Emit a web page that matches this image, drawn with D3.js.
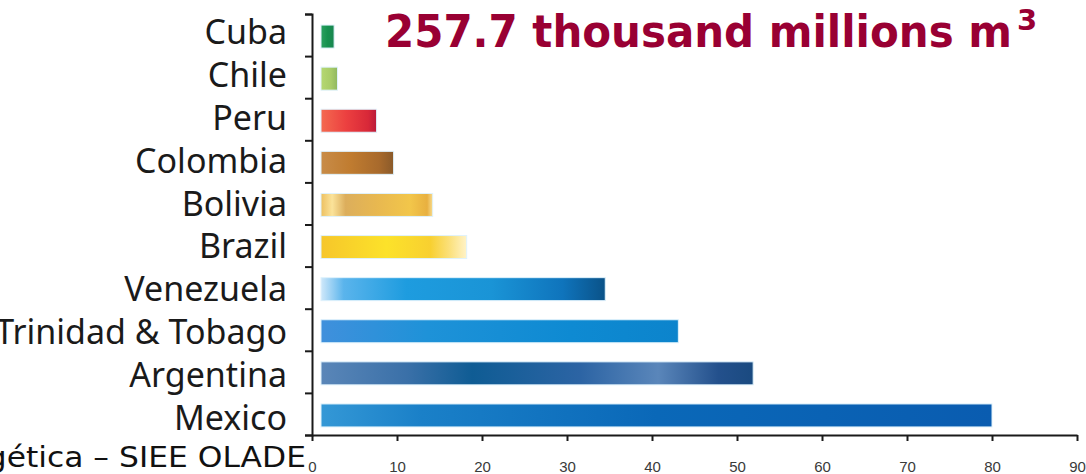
<!DOCTYPE html>
<html>
<head>
<meta charset="utf-8">
<script src="https://cdn.jsdelivr.net/npm/d3@7"></script>
<style>
  html, body { margin: 0; padding: 0; background: #fff; }
  svg { display: block; }
</style>
</head>
<body>
<svg id="chart" width="1086" height="474"></svg>
<script>
// ---- data ----
const countries = ["Cuba", "Chile", "Peru", "Colombia", "Bolivia", "Brazil", "Venezuela", "Trinidad & Tobago", "Argentina", "Mexico"];
const values = [2.6, 3.0, 7.6, 9.6, 14.2, 18.2, 34.5, 43.1, 51.9, 80.0];
const xTicks = [0, 10, 20, 30, 40, 50, 60, 70, 80, 90];
const titleText = "257.7 thousand millions m";
const titleSup = "3";
const sourceText = "Energética – SIEE OLADE";

// ---- styles (gradient stops per bar) ----
const barGradients = [
  [["0", "#2aa060"], ["0.5", "#15914f"], ["1", "#1a8550"]],
  [["0", "#b5d872"], ["0.6", "#a8cc68"], ["1", "#90b860"]],
  [["0", "#f46a50"], ["0.45", "#ec4040"], ["0.85", "#d82838"], ["1", "#b81a3a"]],
  [["0", "#c88c48"], ["0.4", "#c07c30"], ["0.8", "#a86a2c"], ["1", "#8a5a2a"]],
  [["0", "#edc060"], ["0.1", "#fbe39a"], ["0.22", "#dcae5c"], ["0.5", "#e8b850"], ["0.8", "#f2c64a"], ["0.95", "#e8b040"], ["1", "#f8dc90"]],
  [["0", "#f6c62a"], ["0.45", "#fce22a"], ["0.75", "#f8d030"], ["0.88", "#fbe07a"], ["1", "#fff3c8"]],
  [["0", "#cfe8fa"], ["0.08", "#5ab4ec"], ["0.3", "#1e9cdf"], ["0.6", "#1a94d6"], ["0.85", "#0f74bc"], ["1", "#0a5288"]],
  [["0", "#4090dc"], ["0.3", "#1e92d8"], ["0.7", "#0e8ad2"], ["1", "#0c84cc"]],
  [["0", "#5a86b8"], ["0.2", "#3a70a8"], ["0.35", "#0f5c94"], ["0.6", "#2c64a4"], ["0.78", "#5a86ba"], ["0.92", "#23508c"], ["1", "#1a4a80"]],
  [["0", "#3498d6"], ["0.15", "#1a80c8"], ["0.5", "#0a68b8"], ["1", "#0a5cb0"]]
];

const svg = d3.select("#chart");
const defs = svg.append("defs");

const x = d3.scaleLinear().domain([0, 90]).range([312, 1077]);
const y = d3.scaleBand().domain(countries).range([14, 435]).paddingInner(0.454).paddingOuter(0.227);
const yEdge = d3.scaleLinear().domain([0, countries.length]).range([14, 435]);
const yLabel = d3.scalePoint().domain(countries).range([44, 430]);

// gradients
countries.forEach((c, i) => {
  const g = defs.append("linearGradient").attr("id", "grad" + i)
    .attr("x1", "0%").attr("x2", "100%").attr("y1", "0%").attr("y2", "0%");
  barGradients[i].forEach(s => g.append("stop").attr("offset", s[0]).attr("stop-color", s[1]));
});

// bars
const barGap = 9;
svg.append("g").selectAll("rect").data(countries).join("rect")
  .attr("x", x(0) + barGap)
  .attr("y", d => y(d) + 1.5)
  .attr("width", (d, i) => x(values[i]) - x(0) - barGap)
  .attr("height", y.bandwidth())
  .attr("fill", (d, i) => `url(#grad${i})`)
  .attr("stroke", "#dff2fc").attr("stroke-width", 1);

// y axis (boundary ticks, pointing left)
const yAxis = svg.append("g").attr("transform", `translate(${x(0)},0)`)
  .call(d3.axisLeft(yEdge).tickValues(d3.range(countries.length + 1)).tickSize(7).tickFormat(""));
yAxis.select(".domain").attr("stroke", "#1a1a1a").attr("stroke-width", 2);
yAxis.selectAll(".tick line").attr("stroke", "#1a1a1a").attr("stroke-width", 2);

// x axis
const xAxis = svg.append("g").attr("transform", `translate(0,435)`)
  .call(d3.axisBottom(x).tickValues(xTicks).tickSize(6).tickPadding(20).tickSizeOuter(0));
xAxis.select(".domain").attr("stroke", "#1a1a1a").attr("stroke-width", 2);
xAxis.selectAll(".tick line").attr("stroke", "#1a1a1a").attr("stroke-width", 2);
xAxis.selectAll(".tick text")
  .attr("font-family", "Liberation Sans, Arial, sans-serif")
  .attr("font-size", 15).attr("fill", "#3a3a3a");

// category labels
svg.append("g").selectAll("text").data(countries).join("text")
  .attr("x", 287)
  .attr("y", d => yLabel(d))
  .attr("text-anchor", "end")
  .attr("font-family", "Noto Sans, sans-serif")
  .attr("font-size", 34)
  .attr("fill", "#1a1a1a")
  .text(d => d);

// title
svg.append("text")
  .attr("x", 385).attr("y", 47)
  .attr("font-family", "DejaVu Sans").attr("font-weight", "bold")
  .attr("font-size", 45).attr("fill", "#990033")
  .attr("textLength", 627).attr("lengthAdjust", "spacingAndGlyphs")
  .text(titleText);
svg.append("text")
  .attr("x", 1017).attr("y", 30)
  .attr("font-family", "DejaVu Sans").attr("font-weight", "bold")
  .attr("font-size", 29).attr("fill", "#990033")
  .text(titleSup);

// source (cut off at left)
svg.append("text")
  .attr("transform", "translate(306,467) scale(1.12,1)")
  .attr("text-anchor", "end")
  .attr("font-family", "DejaVu Sans")
  .attr("font-size", 28).attr("fill", "#111")
  .text(sourceText);
</script>
</body>
</html>
